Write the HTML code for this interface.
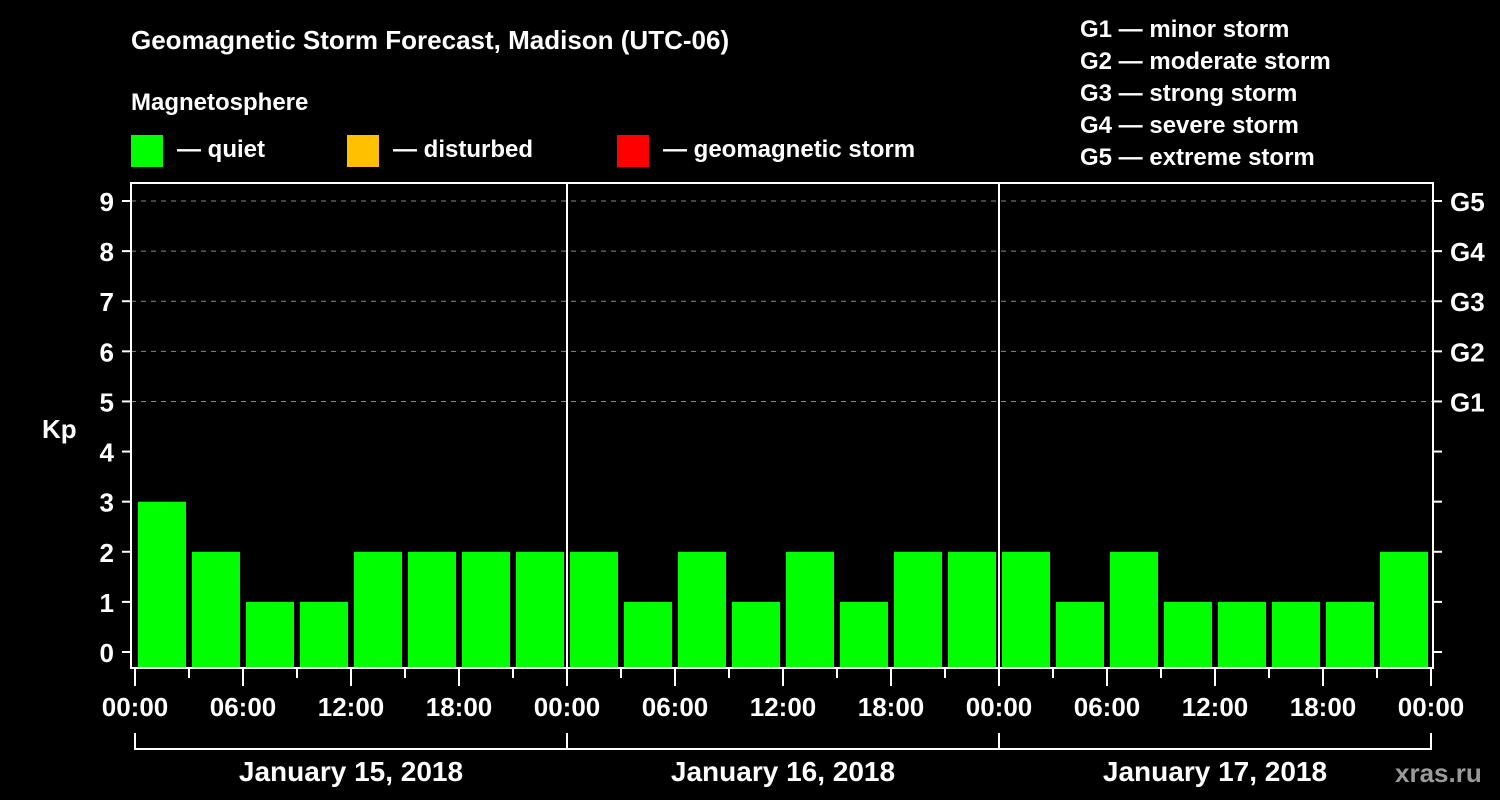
<!DOCTYPE html>
<html><head><meta charset="utf-8"><style>
html,body{margin:0;padding:0;background:#000;width:1500px;height:800px;overflow:hidden}
svg text{font-family:"Liberation Sans",Arial,sans-serif;font-weight:bold;fill:#fff}
</style></head><body>
<svg id="c" width="1500" height="800" xmlns="http://www.w3.org/2000/svg">
<text x="131" y="49" font-size="26">Geomagnetic Storm Forecast, Madison (UTC-06)</text>
<text x="131" y="110" font-size="24">Magnetosphere</text>
<g><rect x="131" y="135" width="32" height="32" fill="#00ff00"/><text x="177" y="157" font-size="24">— quiet</text></g>
<g><rect x="347" y="135" width="32" height="32" fill="#ffc000"/><text x="393" y="157" font-size="24">— disturbed</text></g>
<g><rect x="617" y="135" width="32" height="32" fill="#ff0000"/><text x="663" y="157" font-size="24">— geomagnetic storm</text></g>
<g font-size="24">
<text x="1080" y="37">G1 — minor storm</text>
<text x="1080" y="69">G2 — moderate storm</text>
<text x="1080" y="101">G3 — strong storm</text>
<text x="1080" y="133">G4 — severe storm</text>
<text x="1080" y="165">G5 — extreme storm</text>
</g>
<text x="42" y="438" font-size="26">Kp</text>
<g id="grid"></g><g id="bars"></g><g id="axes"></g>
<text x="1395" y="782" font-size="26" fill="#aaa" style="fill:#9a9a9a">xras.ru</text>
</svg>
<script>
const kpValues=[3,2,1,1,2,2,2,2, 2,1,2,1,2,1,2,2, 2,1,2,1,1,1,1,2];
const yTicks=[0,1,2,3,4,5,6,7,8,9];
const gLabels=["G1","G2","G3","G4","G5"];
const gLevels=[5,6,7,8,9];
const timeLabels=["00:00","06:00","12:00","18:00"];
const dayLabels=["January 15, 2018","January 16, 2018","January 17, 2018"];
const NS="http://www.w3.org/2000/svg";
const X0=135,SLOT=54,Y0=652,UNIT=50.11,TOP=183,BOT=668,LEFT=131,RIGHT=1433;
const xs=i=>X0+i*SLOT, ys=v=>Y0-v*UNIT;
function mk(t,a,p){const e=document.createElementNS(NS,t);for(const k in a)e.setAttribute(k,a[k]);p.appendChild(e);return e;}
const grid=document.getElementById('grid'),bars=document.getElementById('bars'),axes=document.getElementById('axes');
for(const v of yTicks){if(v<5)continue;const l=mk('line',{x1:LEFT,x2:RIGHT,y1:ys(v),y2:ys(v),stroke:'#888','stroke-dasharray':'5,5','stroke-width':1},grid);

}
kpValues.forEach((v,i)=>{const col=v>=5?'#ff0000':(v>=4?'#ffc000':'#00ff00');
const r=mk('rect',{x:xs(i)+3,y:ys(v),width:48,height:BOT-ys(v),fill:col},bars);

});
mk('rect',{x:LEFT,y:TOP,width:RIGHT-LEFT,height:BOT-TOP,fill:'none',stroke:'#fff','stroke-width':2},axes);
for(let d=1;d<3;d++){const l=mk('line',{x1:xs(d*8),x2:xs(d*8),y1:TOP,y2:BOT,stroke:'#fff','stroke-width':2},axes);

}
for(const v of yTicks){mk('line',{x1:122,x2:LEFT,y1:ys(v),y2:ys(v),stroke:'#fff','stroke-width':2},axes);
mk('line',{x1:RIGHT,x2:1442,y1:ys(v),y2:ys(v),stroke:'#fff','stroke-width':2},axes);
const t=mk('text',{x:114,y:ys(v)+10,'text-anchor':'end','font-size':26},axes);t.textContent=v;

}
gLabels.forEach((g,i)=>{const t=mk('text',{x:1450,y:ys(gLevels[i])+10,'font-size':26},axes);t.textContent=g;

});
for(let i=0;i<=24;i++){const major=i%2==0;mk('line',{x1:xs(i),x2:xs(i),y1:BOT,y2:major?686:678,stroke:'#fff','stroke-width':2},axes);
if(major){const t=mk('text',{x:xs(i),y:716,'text-anchor':'middle','font-size':26},axes);t.textContent=timeLabels[(i/2)%4];

}}
mk('line',{x1:X0,x2:xs(24),y1:749,y2:749,stroke:'#fff','stroke-width':2},axes);
for(let d=0;d<=3;d++)mk('line',{x1:xs(d*8),x2:xs(d*8),y1:733,y2:750,stroke:'#fff','stroke-width':2},axes);
dayLabels.forEach((s,d)=>{const t=mk('text',{x:xs(d*8+4),y:781,'text-anchor':'middle','font-size':28},axes);t.textContent=s;

});
</script>
</body></html>
